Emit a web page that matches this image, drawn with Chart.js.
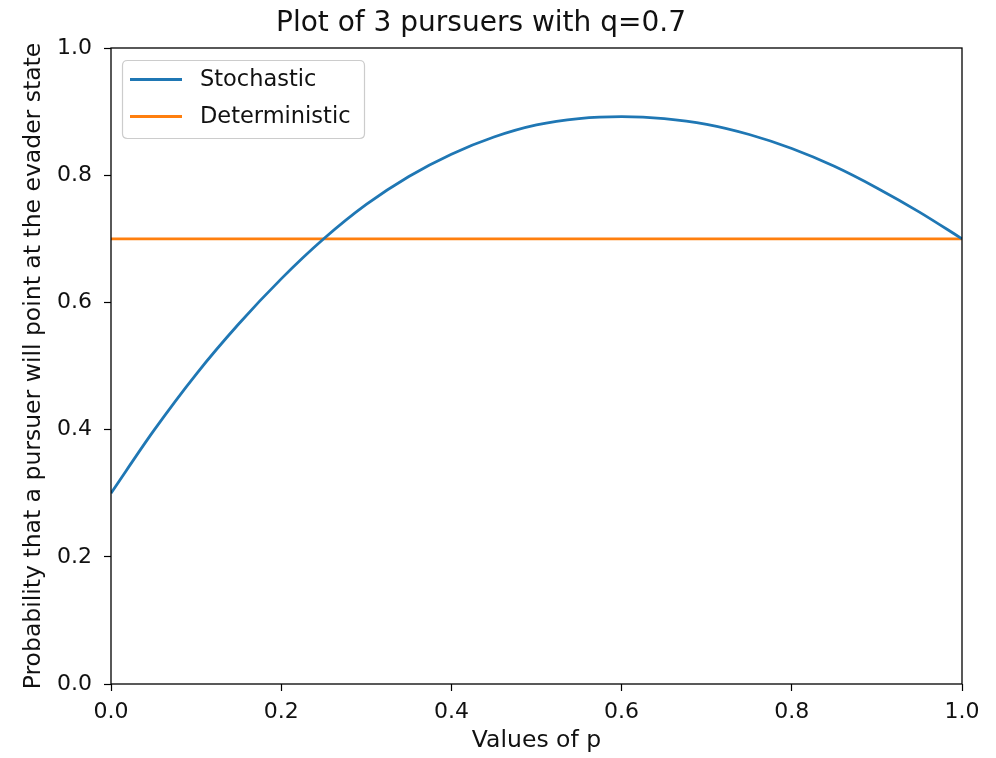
<!DOCTYPE html>
<html>
<head>
<meta charset="utf-8">
<script src="https://cdn.jsdelivr.net/npm/chart.js@4/dist/chart.umd.min.js"></script>
<style>
  html, body { margin: 0; padding: 0; background: #ffffff; }
  #wrap { width: 996px; height: 758px; }
</style>
</head>
<body>
<div id="wrap"><canvas id="c" width="996" height="758"></canvas></div>
<script>
// ---- data ----
const titleText = 'Plot of 3 pursuers with q=0.7';
const xLabel = 'Values of p';
const yLabel = 'Probability that a pursuer will point at the evader state';
const seriesNames = ['Stochastic', 'Deterministic'];
const pValues = [0.00, 0.05, 0.10, 0.15, 0.20, 0.25, 0.30, 0.35, 0.40, 0.45, 0.50,
                 0.55, 0.60, 0.65, 0.70, 0.75, 0.80, 0.85, 0.90, 0.95, 1.00];
const stochastic = [0.300, 0.398, 0.487, 0.566, 0.637, 0.700, 0.754, 0.798, 0.833, 0.860, 0.879,
                    0.889, 0.892, 0.889, 0.880, 0.864, 0.842, 0.814, 0.780, 0.742, 0.700];
const deterministic = [0.7, 0.7, 0.7, 0.7, 0.7, 0.7, 0.7, 0.7, 0.7, 0.7, 0.7,
                       0.7, 0.7, 0.7, 0.7, 0.7, 0.7, 0.7, 0.7, 0.7, 0.7];
const xTicks = [0.0, 0.2, 0.4, 0.6, 0.8, 1.0];
const yTicks = [0.0, 0.2, 0.4, 0.6, 0.8, 1.0];
const seriesColors = ['#1f77b4', '#ff7f0e'];

// ---- chart ----
Chart.defaults.font.family = "'DejaVu Sans', sans-serif";
Chart.defaults.color = '#111111';

const toPoints = (xs, ys) => xs.map((x, i) => ({ x: x, y: ys[i] }));

const framePlugin = {
  id: 'frame',
  afterDatasetsDraw(chart) {
    const { ctx, chartArea: a } = chart;
    ctx.save();
    ctx.strokeStyle = '#000000';
    ctx.lineWidth = 1.3;
    ctx.strokeRect(a.left, a.top, a.right - a.left, a.bottom - a.top);
    ctx.restore();
  }
};

const legendPlugin = {
  id: 'innerLegend',
  afterDraw(chart) {
    const { ctx, chartArea: a } = chart;
    const bx = a.left + 11.5, by = a.top + 12.5, bw = 242, bh = 78, r = 5;
    ctx.save();
    ctx.beginPath();
    ctx.moveTo(bx + r, by);
    ctx.lineTo(bx + bw - r, by);
    ctx.quadraticCurveTo(bx + bw, by, bx + bw, by + r);
    ctx.lineTo(bx + bw, by + bh - r);
    ctx.quadraticCurveTo(bx + bw, by + bh, bx + bw - r, by + bh);
    ctx.lineTo(bx + r, by + bh);
    ctx.quadraticCurveTo(bx, by + bh, bx, by + bh - r);
    ctx.lineTo(bx, by + r);
    ctx.quadraticCurveTo(bx, by, bx + r, by);
    ctx.closePath();
    ctx.fillStyle = 'rgba(255,255,255,0.8)';
    ctx.fill();
    ctx.strokeStyle = '#cccccc';
    ctx.lineWidth = 1.2;
    ctx.stroke();
    ctx.font = "22.5px 'DejaVu Sans'";
    ctx.textBaseline = 'middle';
    ctx.textAlign = 'left';
    chart.data.datasets.forEach((ds, i) => {
      const y = by + 19 + i * 37;
      ctx.beginPath();
      ctx.moveTo(a.left + 19, y);
      ctx.lineTo(a.left + 71, y);
      ctx.strokeStyle = ds.borderColor;
      ctx.lineWidth = 2.8;
      ctx.stroke();
      ctx.fillStyle = '#111111';
      ctx.fillText(ds.label, a.left + 89, y + 1);
    });
    ctx.restore();
  }
};

new Chart(document.getElementById('c'), {
  type: 'line',
  data: {
    datasets: [
      {
        label: seriesNames[0],
        data: toPoints(pValues, stochastic),
        borderColor: seriesColors[0],
        backgroundColor: seriesColors[0],
        borderWidth: 2.8,
        pointRadius: 0,
        cubicInterpolationMode: 'monotone',
        fill: false
      },
      {
        label: seriesNames[1],
        data: toPoints(pValues, deterministic),
        borderColor: seriesColors[1],
        backgroundColor: seriesColors[1],
        borderWidth: 2.8,
        pointRadius: 0,
        tension: 0,
        fill: false
      }
    ]
  },
  options: {
    responsive: false,
    devicePixelRatio: 1,
    animation: false,
    layout: { padding: { left: 0, right: 34, top: 0, bottom: 0 } },
    plugins: {
      legend: { display: false },
      tooltip: { enabled: false },
      title: {
        display: true,
        text: titleText,
        color: '#111111',
        font: { size: 28, weight: 'normal' },
        padding: { top: 7, bottom: 7.4 }
      }
    },
    scales: {
      x: {
        type: 'linear',
        min: 0,
        max: 1,
        afterBuildTicks: s => { s.ticks = xTicks.map(v => ({ value: v })); },
        afterFit: s => { s.height = 74; },
        ticks: {
          callback: v => Number(v).toFixed(1),
          font: { size: 22 },
          color: '#111111',
          padding: 8,
          maxRotation: 0,
          autoSkip: false
        },
        grid: {
          drawOnChartArea: false,
          drawTicks: true,
          tickLength: 7,
          tickColor: '#000000',
          tickWidth: 1.2
        },
        border: { display: false },
        title: {
          display: true,
          text: xLabel,
          color: '#111111',
          font: { size: 23.5 },
          padding: { top: 0, bottom: 3 }
        }
      },
      y: {
        type: 'linear',
        min: 0,
        max: 1,
        afterBuildTicks: s => { s.ticks = yTicks.map(v => ({ value: v })); },
        afterFit: s => { s.width = 111; },
        ticks: {
          callback: v => Number(v).toFixed(1),
          font: { size: 22 },
          color: '#111111',
          padding: 12,
          autoSkip: false
        },
        grid: {
          drawOnChartArea: false,
          drawTicks: true,
          tickLength: 7,
          tickColor: '#000000',
          tickWidth: 1.2
        },
        border: { display: false },
        title: {
          display: true,
          text: yLabel,
          color: '#111111',
          font: { size: 23.5 },
          padding: { top: 20, bottom: 0 }
        }
      }
    }
  },
  plugins: [framePlugin, legendPlugin]
});
</script>
</body>
</html>
